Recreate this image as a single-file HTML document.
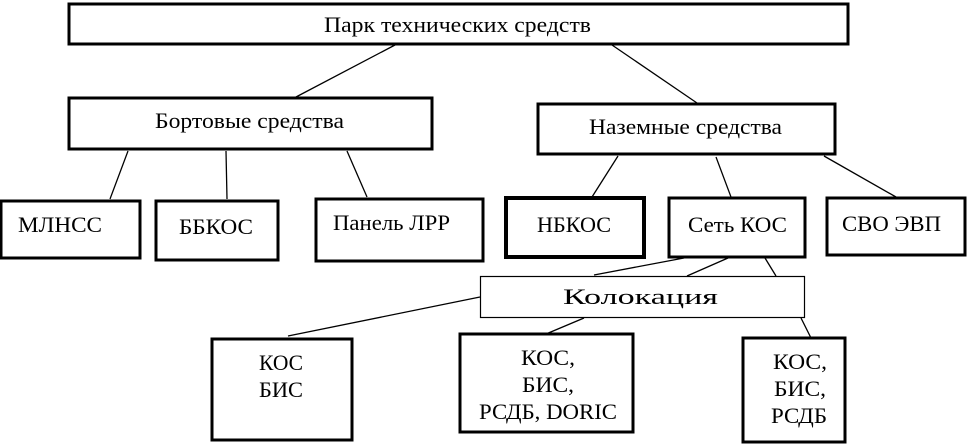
<!DOCTYPE html>
<html><head><meta charset="utf-8"><style>
html,body{margin:0;padding:0;background:#fff;}
svg{display:block;}
text{font-family:"Liberation Serif",serif;font-size:22px;fill:#000;}
</style></head><body>
<svg width="967" height="444" viewBox="0 0 967 444" xmlns="http://www.w3.org/2000/svg">
<g stroke="#000" fill="none">
<rect x="69" y="4" width="779" height="40" stroke-width="3"/>
<rect x="69" y="98" width="363" height="51" stroke-width="3"/>
<rect x="538" y="104" width="297" height="50" stroke-width="3"/>
<rect x="1" y="201" width="139" height="57" stroke-width="3"/>
<rect x="156" y="201" width="122" height="59" stroke-width="3"/>
<rect x="316" y="199" width="167" height="62" stroke-width="3"/>
<rect x="506" y="198" width="138" height="59" stroke-width="4"/>
<rect x="669" y="198" width="136" height="59" stroke-width="3"/>
<rect x="827" y="198" width="138" height="57" stroke-width="3"/>
<rect x="480.5" y="276.5" width="324" height="41" stroke-width="1.2"/>
<rect x="212" y="339" width="140" height="101" stroke-width="3"/>
<rect x="460" y="334" width="173" height="98" stroke-width="3"/>
<rect x="743" y="338" width="102" height="104" stroke-width="3"/>
<g stroke-width="1.3">
<line x1="395" y1="45" x2="296" y2="97"/>
<line x1="612" y1="45" x2="697" y2="103"/>
<line x1="128" y1="151" x2="110" y2="199"/>
<line x1="226" y1="151" x2="227" y2="199"/>
<line x1="347" y1="151" x2="367" y2="197"/>
<line x1="618" y1="156" x2="592" y2="197"/>
<line x1="716" y1="157" x2="731" y2="197"/>
<line x1="824" y1="156" x2="896" y2="197"/>
<line x1="684" y1="258" x2="594" y2="275"/>
<line x1="728" y1="258" x2="687" y2="276"/>
<line x1="765" y1="258" x2="776" y2="276"/>
<line x1="480" y1="297" x2="288" y2="336"/>
<line x1="584" y1="318" x2="546" y2="334"/>
<line x1="801" y1="318" x2="811" y2="338"/>
</g>
</g>
<g lengthAdjust="spacingAndGlyphs">
<text x="324" y="32" textLength="267" lengthAdjust="spacingAndGlyphs">Парк  технических  средств</text>
<text x="155" y="128" textLength="189" lengthAdjust="spacingAndGlyphs">Бортовые  средства</text>
<text x="589" y="134" textLength="193" lengthAdjust="spacingAndGlyphs">Наземные  средства</text>
<text x="18" y="232" textLength="84" lengthAdjust="spacingAndGlyphs">МЛНСС</text>
<text x="179" y="234" textLength="74" lengthAdjust="spacingAndGlyphs">ББКОС</text>
<text x="333" y="230" textLength="117" lengthAdjust="spacingAndGlyphs">Панель ЛРР</text>
<text x="537" y="232" textLength="74" lengthAdjust="spacingAndGlyphs">НБКОС</text>
<text x="688" y="232" textLength="99" lengthAdjust="spacingAndGlyphs">Сеть КОС</text>
<text x="842" y="231" textLength="99" lengthAdjust="spacingAndGlyphs">СВО ЭВП</text>
<text x="563" y="304" textLength="155" lengthAdjust="spacingAndGlyphs">Колокация</text>
<text x="259" y="370" textLength="44" lengthAdjust="spacingAndGlyphs">КОС</text>
<text x="259" y="397" textLength="44" lengthAdjust="spacingAndGlyphs">БИС</text>
<text x="521" y="365" textLength="54" lengthAdjust="spacingAndGlyphs">КОС,</text>
<text x="522" y="392" textLength="52" lengthAdjust="spacingAndGlyphs">БИС,</text>
<text x="479" y="419" textLength="138" lengthAdjust="spacingAndGlyphs">РСДБ, DORIC</text>
<text x="773" y="369" textLength="54" lengthAdjust="spacingAndGlyphs">КОС,</text>
<text x="774" y="396" textLength="52" lengthAdjust="spacingAndGlyphs">БИС,</text>
<text x="771" y="423" textLength="56" lengthAdjust="spacingAndGlyphs">РСДБ</text>
</g>
</svg>
</body></html>
